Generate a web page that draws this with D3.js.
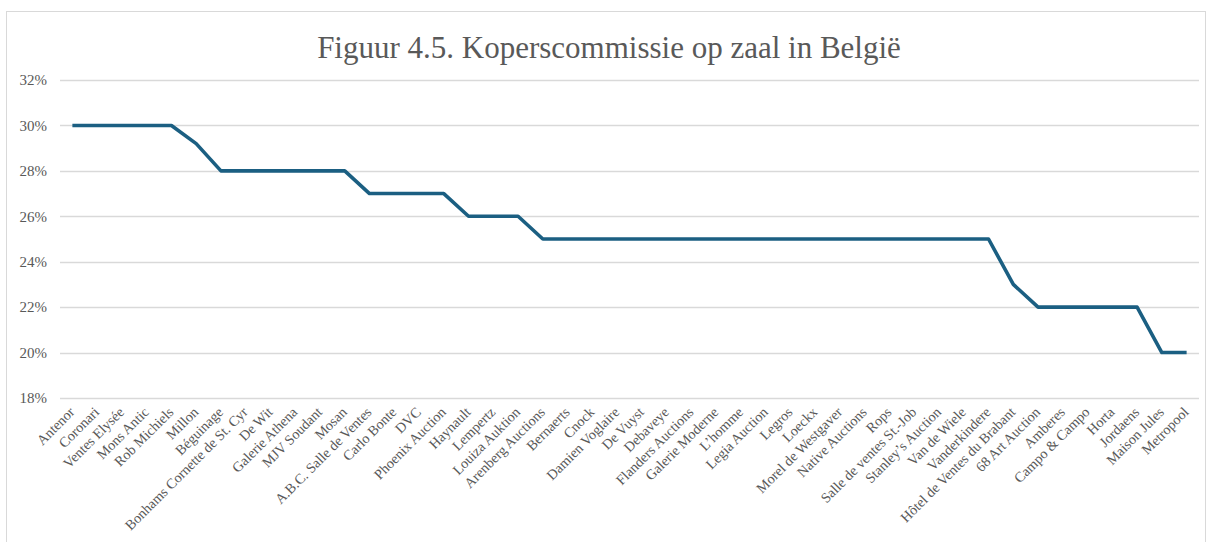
<!DOCTYPE html>
<html><head><meta charset="utf-8">
<script src="https://cdn.jsdelivr.net/npm/d3@7/dist/d3.min.js"></script>
<style>
html,body{margin:0;padding:0;background:#fff;}
svg{display:block;}
</style></head>
<body>
<svg id="chart" width="1212" height="542"></svg>
<script>
const categories = ["Antenor","Coronari","Ventes Elysée","Mons Antic","Rob Michiels","Millon","Béguinage","Bonhams Cornette de St. Cyr","De Wit","Galerie Athena","MJV Soudant","Mosan","A.B.C. Salle de Ventes","Carlo Bonte","DVC","Phoenix Auction","Haynault","Lempertz","Louiza Auktion","Arenberg Auctions","Bernaerts","Cnock","Damien Voglaire","De Vuyst","Debaveye","Flanders Auctions","Galerie Moderne","L’homme","Legia Auction","Legros","Loeckx","Morel de Westgaver","Native Auctions","Rops","Salle de ventes St.-Job","Stanley’s Auction","Van de Wiele","Vanderkindere","Hôtel de Ventes du Brabant","68 Art Auction","Amberes","Campo & Campo","Horta","Jordaens","Maison Jules","Metropool"];
const commission = [0.30,0.30,0.30,0.30,0.30,0.292,0.28,0.28,0.28,0.28,0.28,0.28,0.27,0.27,0.27,0.27,0.26,0.26,0.26,0.25,0.25,0.25,0.25,0.25,0.25,0.25,0.25,0.25,0.25,0.25,0.25,0.25,0.25,0.25,0.25,0.25,0.25,0.25,0.23,0.22,0.22,0.22,0.22,0.22,0.20,0.20];
const yTicks = [0.18,0.20,0.22,0.24,0.26,0.28,0.30,0.32];
const title = "Figuur 4.5. Koperscommissie op zaal in België";

const svg = d3.select("#chart");
const font = "'Liberation Serif','Times New Roman',serif";
const grey = "#595959";

// chart border
svg.append("rect").attr("x",6.5).attr("y",11.5).attr("width",1199).attr("height",540)
  .attr("fill","#fff").attr("stroke","#d9d9d9").attr("stroke-width",1);

const x = d3.scaleBand().domain(categories).range([60,1199]);
const y = d3.scaleLinear().domain([0.18,0.32]).range([398,80]);

// gridlines
svg.append("g").selectAll("line").data(yTicks).join("line")
  .attr("x1",60).attr("x2",1199)
  .attr("y1",d=>Math.round(y(d))+0.5).attr("y2",d=>Math.round(y(d))+0.5)
  .attr("stroke","#d9d9d9").attr("stroke-width",1.3);

// y axis
const yAxis = d3.axisLeft(y).tickValues(yTicks).tickFormat(d3.format(".0%")).tickSize(0).tickPadding(13);
const gy = svg.append("g").attr("transform","translate(60,0)").call(yAxis);
gy.select(".domain").remove();
gy.selectAll("text").attr("font-family",font).attr("font-size",15).attr("fill",grey);

// x axis
const xAxis = d3.axisBottom(x).tickSize(0).tickPadding(0);
const gx = svg.append("g").attr("transform","translate(0,398)").call(xAxis);
gx.select(".domain").remove();
gx.selectAll("text")
  .attr("font-family",font).attr("font-size",14.2).attr("fill",grey)
  .attr("text-anchor","end").attr("dy",null).attr("y",0)
  .attr("transform","translate(3,15) rotate(-45)");

// line
const line = d3.line().x((d,i)=>x(categories[i])+x.bandwidth()/2).y(d=>y(d));
svg.append("path").datum(commission).attr("d",line)
  .attr("fill","none").attr("stroke","#1b5f82").attr("stroke-width",3.6)
  .attr("stroke-linejoin","round").attr("stroke-linecap","butt");

// title
svg.append("text").attr("x",609).attr("y",58).attr("text-anchor","middle")
  .attr("font-family",font).attr("font-size",31).attr("fill",grey).text(title);
</script>
</body></html>
